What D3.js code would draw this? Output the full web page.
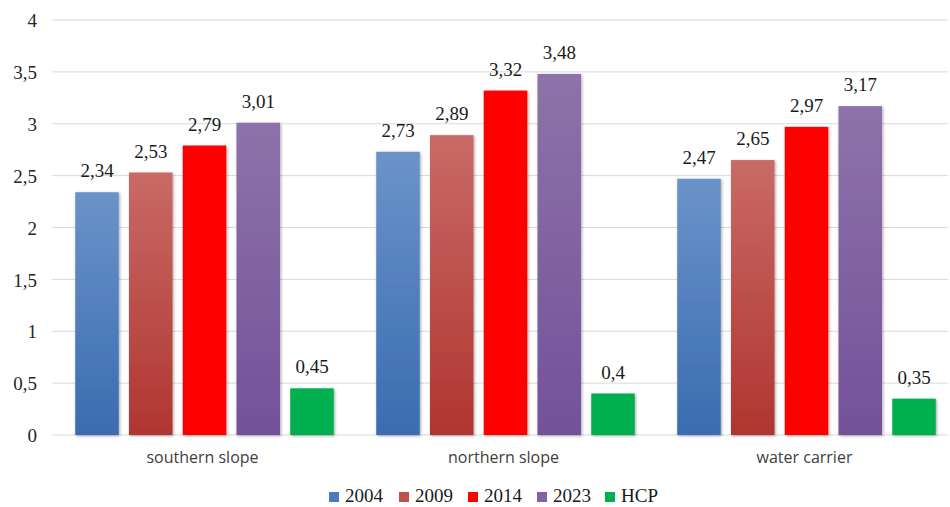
<!DOCTYPE html>
<html><head><meta charset="utf-8">
<script src="https://cdn.jsdelivr.net/npm/d3@7"></script>
<style>body{margin:0;background:#fff;}svg{display:block;}</style>
</head><body>
<svg id="c" width="950" height="507"></svg>
<script>
const categories = ["southern slope", "northern slope", "water carrier"];
const seriesNames = ["2004", "2009", "2014", "2023", "HCP"];
const v2004 = [2.34, 2.73, 2.47];
const v2009 = [2.53, 2.89, 2.65];
const v2014 = [2.79, 3.32, 2.97];
const v2023 = [3.01, 3.48, 3.17];
const vHCP  = [0.45, 0.40, 0.35];
const yTicks = [0, 0.5, 1, 1.5, 2, 2.5, 3, 3.5, 4];

const seriesValues = [v2004, v2009, v2014, v2023, vHCP];
const grads = [
  ["#6a93c9", "#3a6cb0"],
  ["#c96a66", "#b03531"],
  ["#ff0000", "#ff0000"],
  ["#8d73a9", "#73519a"],
  ["#00b050", "#00b050"]
];
const legendColors = ["#4a7bbf", "#c0504d", "#ff0000", "#8064a2", "#00b050"];

const svg = d3.select("#c");
const defs = svg.append("defs");
grads.forEach((g, i) => {
  const lg = defs.append("linearGradient").attr("id", "g" + i)
    .attr("x1", 0).attr("y1", 0).attr("x2", 0).attr("y2", 1);
  lg.append("stop").attr("offset", "0%").attr("stop-color", g[0]);
  lg.append("stop").attr("offset", "100%").attr("stop-color", g[1]);
});
const f = defs.append("filter").attr("id", "sh").attr("x", "-20%").attr("y", "-10%").attr("width", "140%").attr("height", "120%");
f.append("feDropShadow").attr("dx", 1).attr("dy", 1).attr("stdDeviation", 1.6).attr("flood-color", "#000").attr("flood-opacity", 0.35);

const y = d3.scaleLinear().domain([0, 4]).range([435, 20]);
const x0 = d3.scaleBand().domain(categories).range([54, 957]).paddingInner(0).paddingOuter(0);
const x1 = d3.scaleBand().domain(seriesNames).range([0, x0.bandwidth()]).paddingInner(0.19).paddingOuter(0.395);

// gridlines
svg.append("g").selectAll("line").data(yTicks).join("line")
  .attr("x1", 52).attr("x2", 948)
  .attr("y1", d => y(d)).attr("y2", d => y(d))
  .attr("stroke", "#d9d9d9").attr("stroke-width", 1);

// y axis
const yAxis = d3.axisLeft(y).tickValues(yTicks).tickSize(0).tickPadding(0)
  .tickFormat(d => String(d).replace(".", ","));
const ya = svg.append("g").attr("transform", "translate(37,0)").call(yAxis);
ya.select(".domain").remove();
ya.selectAll("text").attr("font-family", "Liberation Serif, Times New Roman, serif")
  .attr("font-size", 19).attr("fill", "#262626").attr("dy", "0.35em");

// bars
const groups = svg.append("g").selectAll("g").data(categories).join("g")
  .attr("transform", d => `translate(${x0(d)},0)`);
groups.each(function(cat, ci) {
  const g = d3.select(this);
  const data = seriesNames.map((s, si) => ({s, si, v: seriesValues[si][ci]}));
  g.selectAll("rect").data(data).join("rect")
    .attr("x", d => x1(d.s)).attr("width", x1.bandwidth())
    .attr("y", d => y(d.v)).attr("height", d => y(0) - y(d.v))
    .attr("fill", d => `url(#g${d.si})`).attr("filter", "url(#sh)");
  g.selectAll("text.v").data(data).join("text").attr("class", "v")
    .attr("x", d => x1(d.s) + x1.bandwidth() / 2).attr("y", d => y(d.v) - 15)
    .attr("text-anchor", "middle")
    .attr("font-family", "Liberation Serif, Times New Roman, serif").attr("font-size", 19)
    .attr("fill", "#1a1a1a")
    .text(d => String(d.v).replace(".", ","));
});

// x category labels
svg.append("g").selectAll("text").data(categories).join("text")
  .attr("x", d => x0(d) + x0.bandwidth() / 2 - 2).attr("y", 463)
  .attr("text-anchor", "middle").attr("font-family", "Open Sans, Liberation Sans, sans-serif")
  .attr("font-size", 16).attr("fill", "#404040").text(d => d);

// legend
const legX = [329, 399, 468, 537, 605];
const leg = svg.append("g").selectAll("g").data(seriesNames).join("g")
  .attr("transform", (d, i) => `translate(${legX[i]},0)`);
leg.append("rect").attr("x", 0).attr("y", 492).attr("width", 10).attr("height", 10)
  .attr("fill", (d, i) => legendColors[i]);
leg.append("text").attr("x", 16).attr("y", 502)
  .attr("font-family", "Liberation Serif, Times New Roman, serif").attr("font-size", 19)
  .attr("fill", "#1a1a1a").text(d => d);
</script>
</body></html>
